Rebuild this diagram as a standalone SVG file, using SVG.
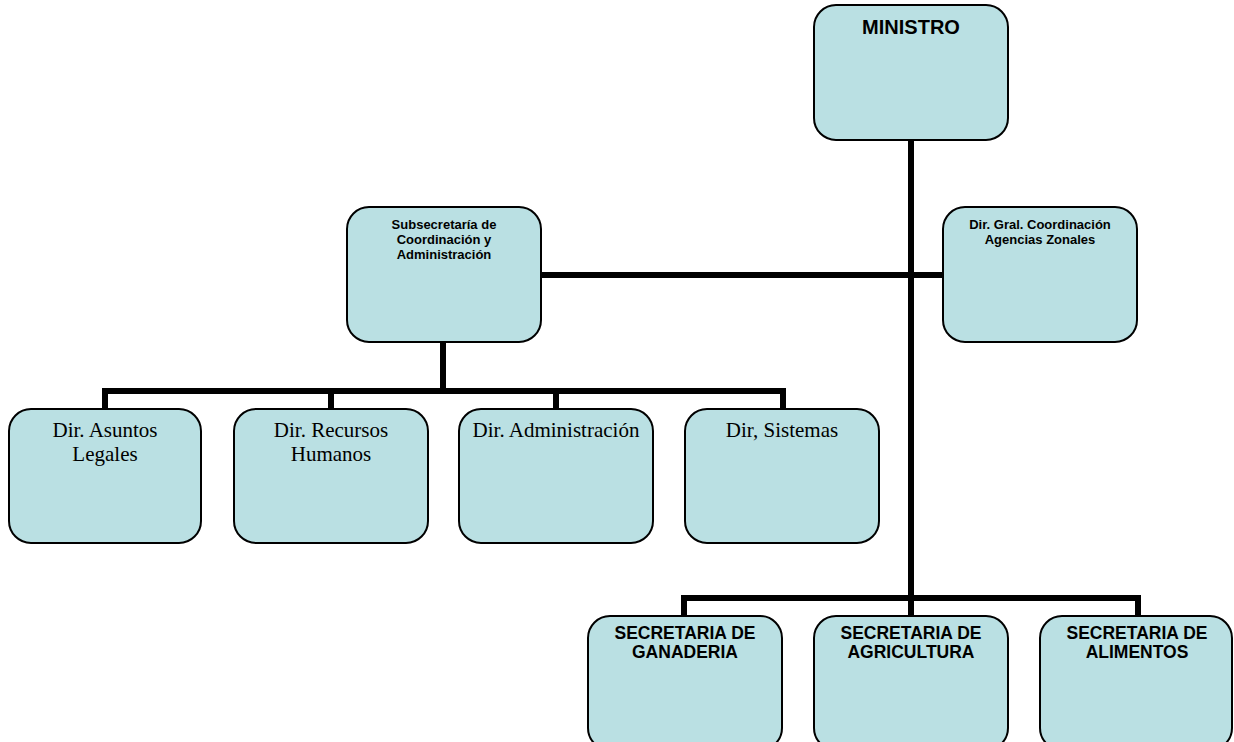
<svg xmlns="http://www.w3.org/2000/svg" width="1234" height="742" viewBox="0 0 1234 742">
<style>
.box{fill:#BAE0E3;stroke:#000;stroke-width:2}
.conn{stroke:#000;stroke-width:6;fill:none;stroke-linecap:square}
.b{font-family:"Liberation Sans",Arial,sans-serif;font-weight:bold;text-anchor:middle;fill:#000}
.s{font-family:"Liberation Serif","Times New Roman",serif;text-anchor:middle;fill:#000;font-size:21px}
</style>
<rect width="1234" height="742" fill="#fff"/>
<g id="connectors">
<path class="conn" d="M911 140 V598"/>
<path class="conn" d="M541 275 H943"/>
<path class="conn" d="M443 342 V391"/>
<path class="conn" d="M105 409 V391 H783 V409"/>
<path class="conn" d="M331 391 V409"/>
<path class="conn" d="M556 391 V409"/>
<path class="conn" d="M684 616 V598 H1138 V616"/>
<path class="conn" d="M911 598 V616"/>
</g>
<g id="ministro">
<rect class="box" x="814" y="5" width="194" height="135" rx="22"/>
<text class="b" x="911" y="34" font-size="20">MINISTRO</text>
</g>
<g id="subsecretaria">
<rect class="box" x="347" y="207" width="194" height="135" rx="22"/>
<text class="b" font-size="13" x="444" y="229">Subsecretaría de</text>
<text class="b" font-size="13" x="444" y="244">Coordinación y</text>
<text class="b" font-size="13" x="444" y="259">Administración</text>
</g>
<g id="dirgral">
<rect class="box" x="943" y="207" width="194" height="135" rx="22"/>
<text class="b" font-size="13" x="1040" y="229">Dir. Gral. Coordinación</text>
<text class="b" font-size="13" x="1040" y="244">Agencias Zonales</text>
</g>
<g id="asuntos">
<rect class="box" x="9" y="409" width="192" height="134" rx="22"/>
<text class="s" x="105" y="437">Dir. Asuntos</text>
<text class="s" x="105" y="461">Legales</text>
</g>
<g id="recursos">
<rect class="box" x="234" y="409" width="194" height="134" rx="22"/>
<text class="s" x="331" y="437">Dir. Recursos</text>
<text class="s" x="331" y="461">Humanos</text>
</g>
<g id="administracion">
<rect class="box" x="459" y="409" width="194" height="134" rx="22"/>
<text class="s" x="556" y="437" font-size="21.5">Dir. Administración</text>
</g>
<g id="sistemas">
<rect class="box" x="685" y="409" width="194" height="134" rx="22"/>
<text class="s" x="782" y="437">Dir, Sistemas</text>
</g>
<g id="ganaderia">
<rect class="box" x="588" y="616" width="194" height="134" rx="22"/>
<text class="b" font-size="17.5" x="685" y="639">SECRETARIA DE</text>
<text class="b" font-size="17.5" x="685" y="658">GANADERIA</text>
</g>
<g id="agricultura">
<rect class="box" x="814" y="616" width="194" height="134" rx="22"/>
<text class="b" font-size="17.5" x="911" y="639">SECRETARIA DE</text>
<text class="b" font-size="17.5" x="911" y="658">AGRICULTURA</text>
</g>
<g id="alimentos">
<rect class="box" x="1040" y="616" width="192" height="134" rx="22"/>
<text class="b" font-size="17.5" x="1137" y="639">SECRETARIA DE</text>
<text class="b" font-size="17.5" x="1137" y="658">ALIMENTOS</text>
</g>
</svg>
